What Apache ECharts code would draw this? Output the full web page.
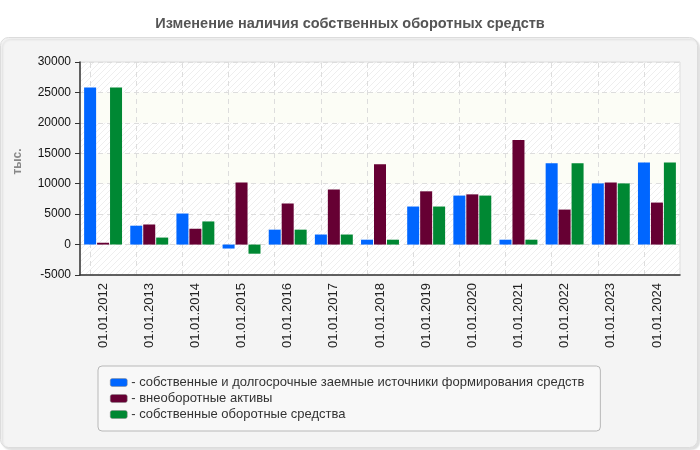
<!DOCTYPE html>
<html>
<head>
<meta charset="utf-8">
<script src="https://cdn.jsdelivr.net/npm/echarts@6/dist/echarts.min.js"></script>
<style>
  html, body { margin: 0; padding: 0; background: #fff; }
  #chart { width: 700px; height: 450px; }
</style>
</head>
<body>
<div id="chart"></div>
<script>
// данные
const categories = ["01.01.2012", "01.01.2013", "01.01.2014", "01.01.2015", "01.01.2016", "01.01.2017", "01.01.2018",
  "01.01.2019", "01.01.2020", "01.01.2021", "01.01.2022", "01.01.2023", "01.01.2024"];
const ownAndLongTerm = [25800, 3100, 5100, -650, 2450, 1650, 800, 6250, 8050, 800, 13350, 10050, 13500];
const nonCurrentAssets = [300, 3300, 2600, 10200, 6750, 9050, 13200, 8750, 8250, 17200, 5750, 10200, 6900];
const ownWorkingCapital = [25800, 1150, 3800, -1500, 2450, 1650, 800, 6250, 8050, 800, 13350, 10050, 13500];
const seriesNames = [
  "собственные и долгосрочные заемные источники формирования средств",
  "внеоборотные активы",
  "собственные оборотные средства",
];
const colors = ["#0066ff", "#660033", "#008833"];

// штриховка фона
function makeHatch() {
  const c = document.createElement("canvas");
  c.width = 6;
  c.height = 6;
  const ctx = c.getContext("2d");
  ctx.fillStyle = "#ffffff";
  ctx.fillRect(0, 0, 6, 6);
  ctx.strokeStyle = "#eeeeee";
  ctx.lineWidth = 1;
  ctx.beginPath();
  ctx.moveTo(0, 6);
  ctx.lineTo(6, 0);
  ctx.moveTo(-1, 1);
  ctx.lineTo(1, -1);
  ctx.moveTo(5, 7);
  ctx.lineTo(7, 5);
  ctx.stroke();
  return c;
}

const chart = echarts.init(document.getElementById("chart"));
const font = "Liberation Sans, Arial, sans-serif";

function barSeries(i, data) {
  const s = {
    name: seriesNames[i],
    type: "bar",
    data: data,
    barWidth: 12,
    barGap: "8%",
    itemStyle: { color: colors[i] },
  };
  if (i === 0) {
    s.markLine = {
      silent: true,
      symbol: "none",
      label: { show: false },
      lineStyle: { color: "#dddddd", type: [5, 4], width: 1 },
      data: categories.map((c) => ({ xAxis: c })),
      z: 0,
    };
  }
  return s;
}

const option = {
  animation: false,
  textStyle: { fontFamily: font },
  graphic: [
    {
      type: "rect",
      left: 0,
      top: 37,
      shape: { width: 697, height: 410, r: 8 },
      style: {
        fill: "#f4f4f4",
        stroke: "#dcdcdc",
        lineWidth: 1,
        shadowColor: "rgba(0,0,0,0.12)",
        shadowBlur: 2,
        shadowOffsetX: 2,
        shadowOffsetY: 2,
      },
      z: -10,
    },
  ],
  title: {
    text: "Изменение наличия собственных оборотных средств",
    left: "center",
    top: 11,
    textStyle: {
      fontFamily: font,
      fontSize: 14.5,
      fontWeight: "bold",
      color: "#555555",
    },
  },
  grid: {
    left: 80,
    right: 20,
    top: 62,
    bottom: 175,
    show: true,
    backgroundColor: { image: makeHatch(), repeat: "repeat" },
    borderColor: "#dddddd",
    borderWidth: 1,
  },
  legend: {
    orient: "vertical",
    left: 98,
    top: 366,
    padding: [10, 16, 10, 12],
    backgroundColor: "#f8f8f8",
    borderColor: "#b8b8b8",
    borderWidth: 1,
    borderRadius: 4,
    itemWidth: 17,
    itemHeight: 8,
    itemGap: 3,
    icon: "roundRect",
    selectedMode: false,
    formatter: (name) => "- " + name,
    textStyle: { fontSize: 13, color: "#333333", padding: [0, 0, 0, -1] },
    data: seriesNames.map((n) => ({
      name: n,
      itemStyle: { borderColor: "#888888", borderWidth: 0.5 },
    })),
  },
  xAxis: {
    type: "category",
    data: categories,
    axisLine: { onZero: false, lineStyle: { color: "#333333", width: 1.5 } },
    axisTick: { alignWithLabel: true, length: 5, lineStyle: { color: "#333333" } },
    axisLabel: { rotate: 90, fontSize: 13, color: "#222222", margin: 8 },
    splitLine: { show: false },
  },
  yAxis: {
    type: "value",
    min: -5000,
    max: 30000,
    interval: 5000,
    name: "тыс.",
    nameLocation: "middle",
    nameGap: 56,
    nameMoveOverlap: false,
    nameTextStyle: { fontSize: 12, fontWeight: "bold", color: "#888888", padding: [0, 0, 0, 14] },
    axisLine: { show: true, lineStyle: { color: "#333333", width: 1.5 } },
    axisTick: { show: true, length: 5, lineStyle: { color: "#333333" } },
    axisLabel: { fontSize: 12, color: "#111111", margin: 9, formatter: (v) => String(v) },
    splitLine: { lineStyle: { color: "#dddddd", type: [5, 4] } },
    splitArea: {
      show: true,
      areaStyle: {
        color: ["rgba(0,0,0,0)", "rgba(0,0,0,0)", "rgba(0,0,0,0)", "#fcfdf6", "rgba(0,0,0,0)", "#fcfdf6", "rgba(0,0,0,0)"],
      },
    },
  },
  series: [
    barSeries(0, ownAndLongTerm),
    barSeries(1, nonCurrentAssets),
    barSeries(2, ownWorkingCapital),
  ],
};

chart.setOption(option);
</script>
</body>
</html>
